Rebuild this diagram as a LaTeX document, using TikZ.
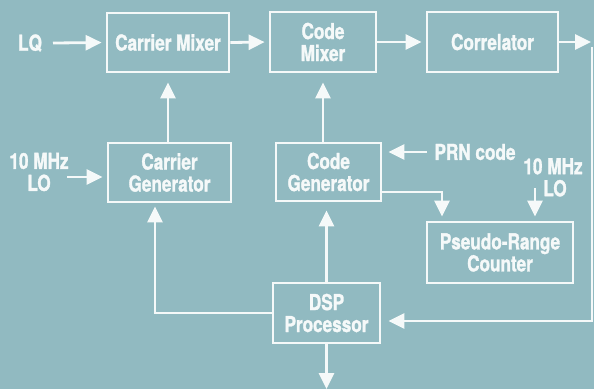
\documentclass[tikz,border=0pt]{standalone}
\usepackage{fontspec}
\setmainfont{TeX Gyre Heros}[FakeStretch=0.78, BoldFeatures={FakeBold=1.3}]
\usetikzlibrary{arrows.meta,calc}
\definecolor{panel}{RGB}{145,186,193}
\definecolor{ink}{RGB}{245,249,249}
\tikzset{
  blk/.style={draw=ink, line width=2.8pt, text=ink, align=center,
    font=\fontsize{22}{22}\selectfont\bfseries, inner sep=0pt},
  lbl/.style={text=ink, align=center, font=\fontsize{22}{22}\selectfont\bfseries, inner sep=0pt},
  wire/.style={draw=ink, line width=2.8pt},
  arr/.style={wire, -{Triangle[length=16pt,width=15pt]}},
}
\begin{document}
\begin{tikzpicture}[x=1pt,y=-1pt]
\fill[panel] (0,0) rectangle (594,389);
\useasboundingbox (0,0) rectangle (594,389);

% blocks
\node[blk, minimum width=122pt, minimum height=59pt] (cmix) at (168,42.5) {Carrier Mixer};
\node[blk, minimum width=106pt, minimum height=60pt] (dmix) at (323,42) {Code\\Mixer};
\node[blk, minimum width=131pt, minimum height=60pt] (corr) at (492.5,42) {Correlator};
\node[blk, minimum width=123pt, minimum height=59pt] (cgen) at (169.5,172.5) {Carrier\\Generator};
\node[blk, minimum width=105pt, minimum height=58pt] (dgen) at (328.5,172) {Code\\Generator};
\node[blk, minimum width=146pt, minimum height=61pt] (prc) at (500,252.5) {Pseudo-Range\\Counter};
\node[blk, minimum width=107pt, minimum height=60pt] (dsp) at (326.5,313) {DSP\\Processor};

% free labels
\node[lbl] (lq) at (30,43) {LQ};
\node[lbl] (lo1) at (39,172) {10 MHz\\LO};
\node[lbl] (prn) at (475,152) {PRN code};
\node[lbl, anchor=north] (lo2) at (553,158) {10 MHz\\\hspace*{4pt}LO};

% helper points
\coordinate (lqend) at (53,43);
\coordinate (lo1end) at (67,177);
\coordinate (corrout) at (591,42);
\coordinate (rtop) at (592,47);
\coordinate (rbot) at (592,321);
\coordinate (dleft) at (155,313);
\coordinate (dgenout) at (442,192);
\coordinate (lo2top) at (535,188);
\coordinate (dout) at (326.5,389);

% forward path
\draw[arr, shorten >=4pt] (lqend) -- (cmix.west);
\draw[arr, shorten >=4pt] (cmix.east) -- (dmix.west);
\draw[arr, shorten >=4pt] (dmix.east) -- (corr.west);
\draw[arr] (corr.east) -- (corrout);

% generators feeding the mixers
\draw[arr, shorten >=9pt] (cgen.north -| cmix.south) -- (cmix.south);
\draw[arr, shorten >=9pt] (dgen.north -| dmix.south) -- (dmix.south);
\draw[arr, shorten >=4pt] (lo1end) -- (lo1end -| cgen.west);
\draw[arr, shorten >=6pt] (prn.west -| 427,0) -- (prn.west -| dgen.east);

% code generator to counter
\draw[arr, shorten >=4pt] (dgen.east |- dgenout) -- (dgenout) -- (dgenout |- prc.north);
\draw[arr, shorten >=4pt] (lo2top) -- (lo2top |- prc.north);

% DSP loop
\draw[arr, shorten >=8pt] (dsp.north) -- (dsp.north |- dgen.south);
\draw[arr, shorten >=3pt] (dsp.west) -- (dleft) -- (dleft |- cgen.south);
\draw[arr, shorten >=7pt] (rtop) -- (rbot) -- (rbot -| dsp.east);
\draw[arr] (dsp.south) -- (dout);
\end{tikzpicture}
\end{document}
